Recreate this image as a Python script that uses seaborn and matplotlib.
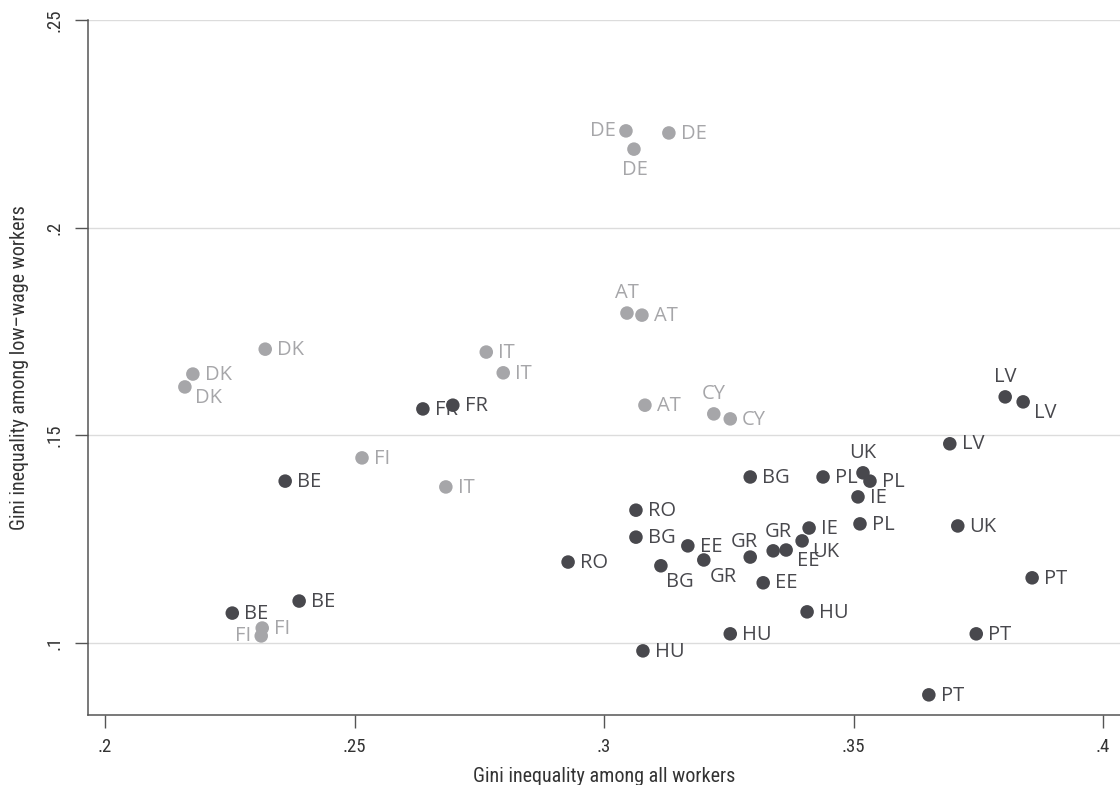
import matplotlib
matplotlib.use("Agg")
import matplotlib.pyplot as plt
from matplotlib import font_manager
import numpy as np
import pandas as pd
import seaborn as sns

# Gini coefficients by country and year: all workers (x) vs low-wage workers (y)
grey_countries = ["DE", "DE", "DE", "AT", "AT", "AT", "CY", "CY",
                  "DK", "DK", "DK", "IT", "IT", "IT", "FI", "FI", "FI"]
grey_gini_all = [0.3044, 0.3130, 0.3060, 0.3046, 0.3076, 0.3082, 0.3220, 0.3253,
                 0.2321, 0.2176, 0.2160, 0.2764, 0.2798, 0.2683, 0.2515, 0.2315, 0.2313]
grey_gini_low = [0.2234, 0.2229, 0.2190, 0.1795, 0.1790, 0.1573, 0.1552, 0.1540,
                 0.1708, 0.1648, 0.1617, 0.1701, 0.1651, 0.1376, 0.1446, 0.1036, 0.1017]

dark_countries = ["FR", "FR", "BE", "BE", "BE", "RO", "RO", "BG", "BG", "BG",
                  "EE", "EE", "EE", "GR", "GR", "GR", "UK", "UK", "UK",
                  "PL", "PL", "PL", "IE", "IE", "HU", "HU", "HU",
                  "LV", "LV", "LV", "PT", "PT", "PT"]
dark_gini_all = [0.2637, 0.2697, 0.2361, 0.2255, 0.2389, 0.3064, 0.2928, 0.3293, 0.3064, 0.3114,
                 0.3168, 0.3365, 0.3319, 0.3293, 0.3339, 0.3200, 0.3519, 0.3397, 0.3709,
                 0.3439, 0.3533, 0.3513, 0.3509, 0.3411, 0.3407, 0.3253, 0.3078,
                 0.3804, 0.3840, 0.3693, 0.3858, 0.3746, 0.3651]
dark_gini_low = [0.1564, 0.1573, 0.1390, 0.1072, 0.1101, 0.1320, 0.1195, 0.1400, 0.1255, 0.1186,
                 0.1234, 0.1224, 0.1145, 0.1207, 0.1222, 0.1200, 0.1410, 0.1246, 0.1282,
                 0.1400, 0.1390, 0.1287, 0.1352, 0.1277, 0.1075, 0.1022, 0.0981,
                 0.1593, 0.1581, 0.1480, 0.1157, 0.1022, 0.0875]

# Marker-label clock positions (3 = right, 9 = left, 12 = above, 6 = below, ...)
grey_label_clock = [9, 3, 6, 12, 3, 3, 12, 3, 3, 3, 4, 3, 3, 3, 3, 3, 9]
dark_label_clock = [3, 3, 3, 3, 3, 3, 3, 3, 3, 5,
                    3, 4, 3, 11, 1, 5, 12, 4, 3,
                    3, 3, 3, 3, 3, 3, 3, 3,
                    12, 4, 3, 3, 3, 3]

x_ticks = [0.2, 0.25, 0.3, 0.35, 0.4]
x_tick_labels = [".2", ".25", ".3", ".35", ".4"]
y_ticks = [0.1, 0.15, 0.2, 0.25]
y_tick_labels = [".1", ".15", ".2", ".25"]

GREY = "#a6a6a9"
DARK = "#48484d"

df = pd.DataFrame({
    "country": grey_countries + dark_countries,
    "gini_all": grey_gini_all + dark_gini_all,
    "gini_low": grey_gini_low + dark_gini_low,
    "group": ["grey"] * len(grey_countries) + ["dark"] * len(dark_countries),
    "clock": grey_label_clock + dark_label_clock,
})

sns.set_style("white")
available = {f.name for f in font_manager.fontManager.ttflist}
label_font = "Open Sans" if "Open Sans" in available else "DejaVu Sans"
axis_font_kw = {"fontfamily": "DejaVu Sans", "fontstretch": "condensed"}
for narrow in ["Liberation Sans Narrow", "Roboto Condensed", "Open Sans Condensed"]:
    if narrow in available:
        axis_font_kw = {"fontfamily": narrow}
        break
plt.rcParams["font.family"] = [label_font, "DejaVu Sans"]

fig = plt.figure(figsize=(11.2, 7.85), dpi=100)
ax = fig.add_axes([0.0786, 0.0892, 0.9214, 0.8847])

sns.scatterplot(data=df, x="gini_all", y="gini_low", hue="group",
                palette={"grey": GREY, "dark": DARK}, hue_order=["grey", "dark"],
                s=95, linewidth=0, legend=False, ax=ax, zorder=3)

# offsets in points and alignment for each clock position
clock_style = {
    3: ((8.5, -0.5), "left", "center"),
    9: ((-7.5, 0), "right", "center"),
    12: ((0, 14.5), "center", "center"),
    11: ((-4, 11), "center", "center"),
    1: ((4, 13.5), "center", "center"),
    6: ((1, -15), "center", "center"),
    4: ((7.5, -8), "left", "center"),
    5: ((4, -12), "left", "center"),
}
for _, row in df.iterrows():
    (dx, dy), ha, va = clock_style[row["clock"]]
    ax.annotate(row["country"], (row["gini_all"], row["gini_low"]),
                xytext=(dx, dy), textcoords="offset points",
                ha=ha, va=va, fontsize=14.5,
                color=GREY if row["group"] == "grey" else DARK, zorder=2)

ax.set_xlim(0.19659, 0.40341)
ax.set_ylim(0.08265, 0.25)
ax.set_xticks(x_ticks)
ax.set_xticklabels(x_tick_labels, fontsize=13.5, **axis_font_kw)
ax.set_yticks(y_ticks)
ax.set_yticklabels(y_tick_labels, fontsize=13.5, rotation=90, va="center", **axis_font_kw)
ax.set_xlabel("Gini inequality among all workers", fontsize=14.5,
              color="#333333", labelpad=8, **axis_font_kw)
ax.set_ylabel("Gini inequality among low\u2013wage workers", fontsize=14.5,
              color="#333333", labelpad=12, **axis_font_kw)

ax.yaxis.grid(True, color="#dcdcdc", linewidth=1.0)
ax.xaxis.grid(False)
ax.set_axisbelow(True)
for side in ["top", "right"]:
    ax.spines[side].set_visible(False)
for side in ["left", "bottom"]:
    ax.spines[side].set_color("#555555")
    ax.spines[side].set_linewidth(1.1)
ax.tick_params(axis="both", which="major", bottom=True, left=True,
               direction="out", length=9.5, width=1.0,
               color="#555555", labelcolor="#333333")
ax.tick_params(axis="x", pad=7)
ax.tick_params(axis="y", pad=8)

fig.savefig("out.png", dpi=100, facecolor="white")
